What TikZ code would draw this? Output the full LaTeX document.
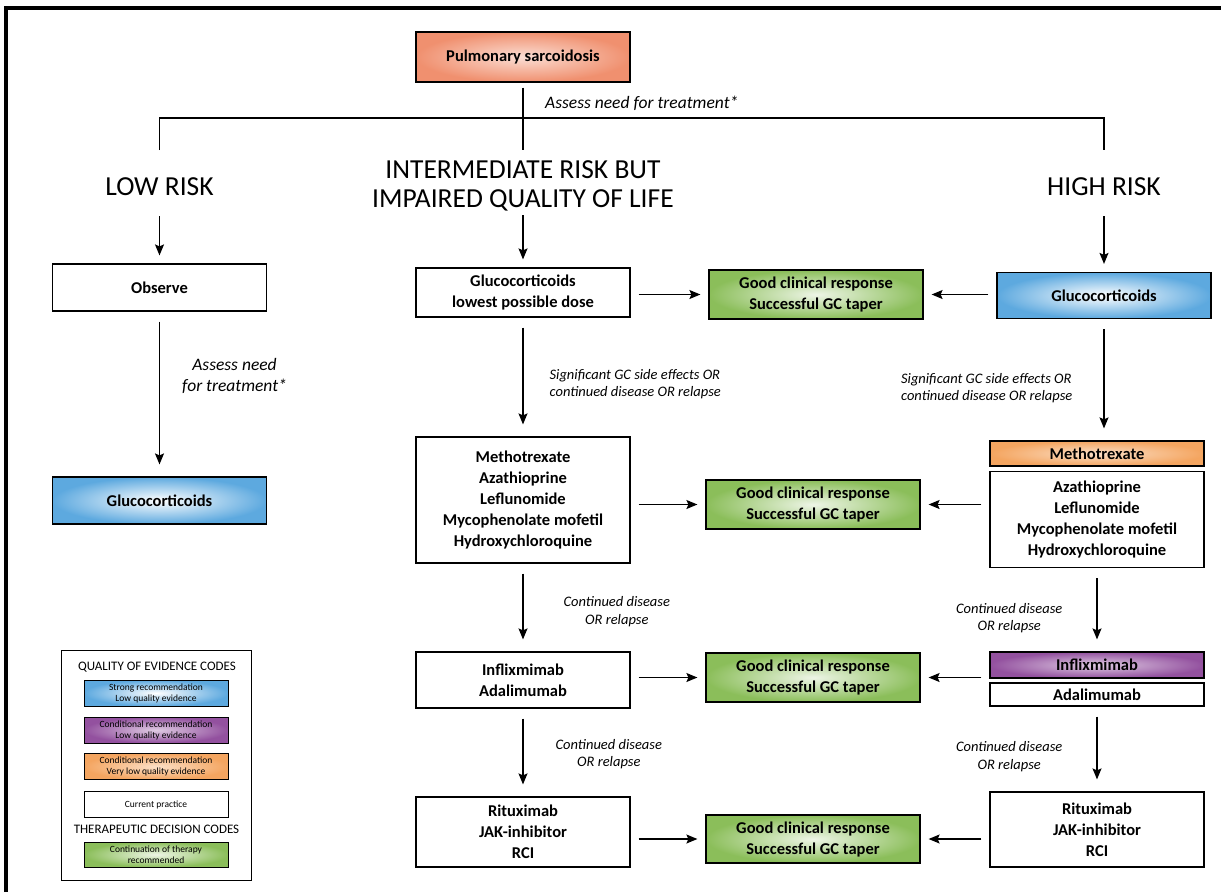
\documentclass[tikz,border=0pt]{standalone}
\usepackage{fontspec}
\setmainfont{Carlito}
\usepackage{tikz}
\usetikzlibrary{positioning,arrows.meta}
\definecolor{colorpul}{HTML}{F0906F}
\definecolor{colorstr}{HTML}{5DA9DF}
\definecolor{colorcnd}{HTML}{93519F}
\definecolor{colorvlq}{HTML}{F4A560}
\definecolor{colorgood}{HTML}{8BBE5A}
\tikzset{box/.style={draw=black, line width=1.2pt, minimum width=214pt, align=center, inner sep=2pt, font=\fontsize{16.5}{21}\selectfont\bfseries}}
\tikzset{head/.style={align=center, minimum height=58pt, inner sep=0pt, font=\fontsize{27.5}{29}\selectfont}}
\tikzset{lbl/.style={align=center, inner sep=0pt, font=\fontsize{14.5}{17.5}\selectfont\itshape}}
\tikzset{lblbig/.style={lbl, font=\fontsize{17.5}{21}\selectfont\itshape}}
\tikzset{key/.style={draw, line width=1pt, minimum width=144pt, minimum height=26pt, align=center, inner sep=1pt, font=\fontsize{9.5}{11}\selectfont}}
\tikzset{keyhead/.style={inner sep=0pt, font=\fontsize{13}{15}\selectfont}}
\tikzset{
  pulm/.style={inner color=colorpul!30, outer color=colorpul},
  strong/.style={inner color=white, outer color=colorstr},
  cond/.style={inner color=colorcnd!30, outer color=colorcnd},
  vlow/.style={inner color=colorvlq!35, outer color=colorvlq},
  good/.style={inner color=colorgood!15, outer color=colorgood},
  arr/.style={line width=1.3pt, -{Stealth[length=11pt,width=9pt,inset=2pt]}},
  vert/.style={arr, shorten <=10pt, shorten >=12pt},
  side/.style={arr, shorten <=8pt, shorten >=8pt},
  tree/.style={line width=1.3pt},
  frame/.style={line width=3.5pt}
}

\begin{document}
\begin{tikzpicture}[x=1pt,y=-1pt]
\useasboundingbox (0,0) rectangle (1221,892);
\draw[frame] (6,892) -- (6,8) -- (1221,8);

\node[box, pulm, minimum height=50pt](pul) at (523,57) {Pulmonary sarcoidosis};
\node[lblbig, anchor=west](assess1) at (545,103) {Assess need for treatment*};

\node[head](low) at (159.5,187) {LOW RISK};
\node[head](mid) at (523,186) {INTERMEDIATE RISK BUT\\IMPAIRED QUALITY OF LIFE};
\node[head](high) at (1104,187) {HIGH RISK};
\coordinate (lowtop) at (159.5,150);
\coordinate (midtop) at (523,150);
\coordinate (hightop) at (1104,150);
\coordinate (split) at (523,118);

\draw[tree] ([yshift=-5pt]pul.south) -- (midtop);
\draw[tree] (lowtop) -- (lowtop |- split) -- (hightop |- split) -- (hightop);

\node[box, minimum height=47pt](obs) at (159.5,287.5) {Observe};
\node[box, strong, minimum height=47pt](gcl) at (159.5,500.5) {Glucocorticoids};

\node[box, minimum height=49pt](gcm) at (523,292.5) {Glucocorticoids\\lowest possible dose};
\node[box, good, minimum height=49pt](good1) at (816,294.5) {Good clinical response\\Successful GC taper};
\node[box, strong, minimum height=46pt](gch) at (1104,295.5) {Glucocorticoids};

\node[box, minimum height=126pt](csm) at (523,500) {Methotrexate\\Azathioprine\\Leflunomide\\Mycophenolate mofetil\\Hydroxychloroquine};
\node[box, good, minimum height=49pt](good2) at (813,504.5) {Good clinical response\\Successful GC taper};
\node[box, vlow, minimum height=25pt](mtxh) at (1097,453.5) {Methotrexate};
\node[box, minimum height=96pt](csh) at (1097,519.5) {Azathioprine\\Leflunomide\\Mycophenolate mofetil\\Hydroxychloroquine};

\node[box, minimum height=56pt](tnfm) at (523,680) {Inflixmimab\\Adalimumab};
\node[box, good, minimum height=49pt](good3) at (813,677.5) {Good clinical response\\Successful GC taper};
\node[box, cond, minimum height=26pt](ifxh) at (1097,665) {Inflixmimab};
\node[box, minimum height=23pt](adah) at (1097,694.5) {Adalimumab};

\node[box, minimum height=70pt](thirdm) at (523,832) {Rituximab\\JAK-inhibitor\\RCI};
\node[box, good, minimum height=48pt](good4) at (813,839) {Good clinical response\\Successful GC taper};
\node[box, minimum height=75pt](thirdh) at (1097,829.5) {Rituximab\\JAK-inhibitor\\RCI};

\draw[arr, shorten >=8pt] (low) -- (obs);
\draw[arr, shorten >=8pt] (mid) -- (gcm);
\draw[arr, shorten >=8pt] (high) -- (gch);

\draw[vert] (obs) -- node[lblbig, right=22pt, pos=0.39](assess2){Assess need\\for treatment*} (gcl);
\draw[vert] (gcm) -- node[lbl, right=26pt, pos=0.56, align=left](sgm){Significant GC side effects OR\\continued disease OR relapse} (csm);
\draw[vert] (gch.south) -- node[lbl, left=31pt, pos=0.57, align=left](sgh){Significant GC side effects OR\\continued disease OR relapse} (gch.south |- mtxh.north);
\draw[vert] (csm) -- node[lbl, right=40pt, pos=0.545](c1m){Continued disease\\OR relapse} (tnfm);
\draw[vert] (csh) -- node[lbl, left=34pt, pos=0.6](c1h){Continued disease\\OR relapse} (ifxh);
\draw[vert] (tnfm) -- node[lbl, right=32pt, pos=0.52](c2m){Continued disease\\OR relapse} (thirdm);
\draw[vert] (adah) -- node[lbl, left=34pt, pos=0.59](c2h){Continued disease\\OR relapse} (thirdh);

\draw[side] (gcm.east |- good1) -- (good1.west);
\draw[side] (gch.west |- good1) -- (good1.east);
\draw[side] (csm.east |- good2) -- (good2.west);
\draw[side] (csh.west |- good2) -- (good2.east);
\draw[side] (tnfm.east |- good3) -- (good3.west);
\draw[side] (ifxh.west |- good3) -- (good3.east);
\draw[side] (thirdm.east |- good4) -- (good4.west);
\draw[side] (thirdh.west |- good4) -- (good4.east);

\node[draw, line width=1pt, minimum width=190pt, minimum height=230pt](legend) at (156,765) {};
\node[keyhead](qhead) at (157,667) {QUALITY OF EVIDENCE CODES};
\node[key, strong](k1) at (156,693) {Strong recommendation\\Low quality evidence};
\node[key, cond](k2) at (156,730) {Conditional recommendation\\Low quality evidence};
\node[key, vlow](k3) at (156,766.5) {Conditional recommendation\\Very low quality evidence};
\node[key](k4) at (156,804.5) {Current practice};
\node[keyhead](thead) at (156.5,829) {THERAPEUTIC DECISION CODES};
\node[key, good, minimum height=25pt](k5) at (156,854.5) {Continuation of therapy\\recommended};
\end{tikzpicture}
\end{document}
